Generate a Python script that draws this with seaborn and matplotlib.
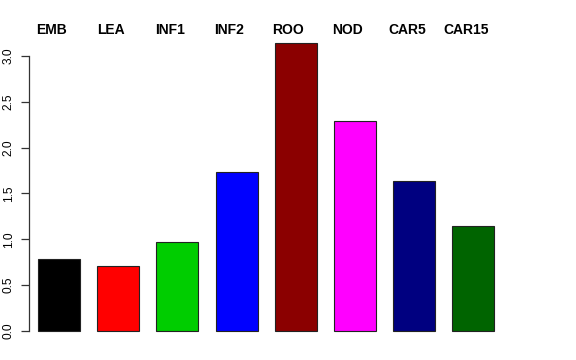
import matplotlib
matplotlib.use("Agg")
import matplotlib.pyplot as plt
import matplotlib.transforms as mtransforms
import seaborn as sns
import pandas as pd

# tissue labels and expression values
tissues = ["EMB", "LEA", "INF1", "INF2", "ROO", "NOD", "CAR5", "CAR15"]
values = [0.785, 0.71, 0.97, 1.735, 3.145, 2.285, 1.64, 1.15]
bar_colors = ["#000000", "#FF0000", "#00CD00", "#0000FF",
              "#8B0000", "#FF00FF", "#000080", "#006400"]
y_ticks = [0.0, 0.5, 1.0, 1.5, 2.0, 2.5, 3.0]

df = pd.DataFrame({"tissue": tissues, "value": values})

sns.set_style("white", {"ytick.left": True})
plt.rcParams["font.family"] = ["Liberation Sans", "DejaVu Sans"]

fig = plt.figure(figsize=(5.76, 3.6), dpi=100)
ax = fig.add_axes([29 / 576, 17.5 / 360, 474 / 576, 311 / 360])

sns.barplot(data=df, x="tissue", y="value", hue="tissue",
            palette=bar_colors, width=0.71, edgecolor="#222222",
            linewidth=0.8, legend=False, saturation=1, ax=ax)

ax.set_xlim(-0.507, 7.5)
ax.set_ylim(-0.1256, 3.2656)

# R style axis: only the left axis, from first to last tick
for side in ["top", "right", "bottom"]:
    ax.spines[side].set_visible(False)
ax.spines["left"].set_bounds(0, 3)
ax.spines["left"].set_color("#333333")
ax.spines["left"].set_linewidth(0.9)

ax.set_xticks([])
ax.set_yticks(y_ticks)
ax.set_yticklabels([f"{t:.1f}" for t in y_ticks], rotation=90, va="center",
                   fontsize=8.6, color="black")
ax.tick_params(axis="y", which="major", left=True, length=5.8, width=0.9,
               pad=4.5, color="#333333", direction="out")
ax.set_xlabel("")
ax.set_ylabel("")

# category names along the top
top_trans = mtransforms.blended_transform_factory(ax.transData, fig.transFigure)
for i, name in enumerate(tissues):
    ax.text(i - 0.125, 1 - 29.5 / 360, name, transform=top_trans,
            ha="center", va="center", fontsize=10, fontweight="bold",
            color="black")

fig.savefig("out.png", dpi=100)
